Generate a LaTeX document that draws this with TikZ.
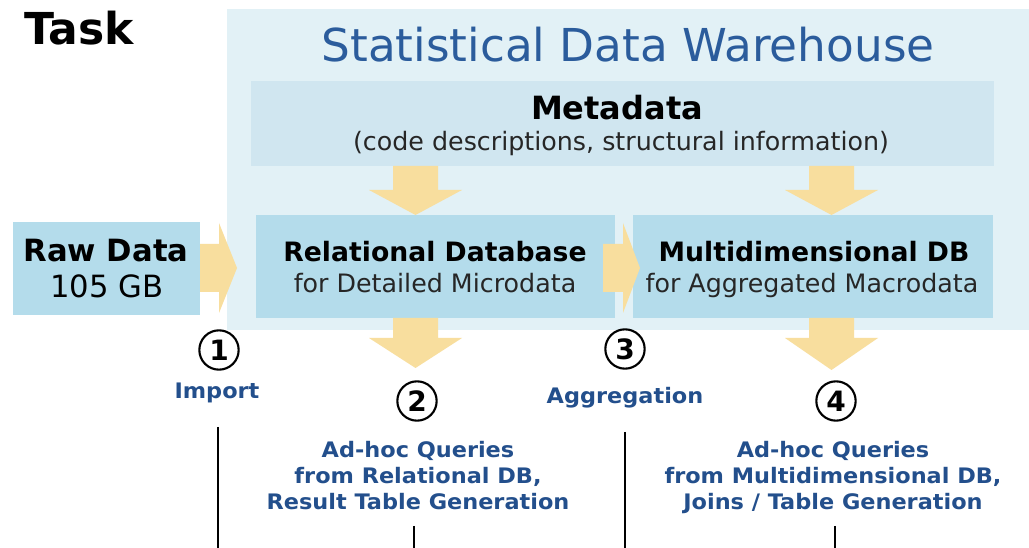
\documentclass[tikz,border=0pt]{standalone}
\usepackage{fontspec}
\setmainfont{DejaVu Sans}
\newfontfamily\labfont[FakeStretch=1.05]{DejaVu Sans}
\usetikzlibrary{fit}
\definecolor{whbg}{HTML}{E2F1F6}
\definecolor{metabg}{HTML}{D0E6F0}
\definecolor{boxbg}{HTML}{B4DCEB}
\definecolor{arrowfill}{HTML}{F8DE9E}
\definecolor{titleblue}{HTML}{2B5C9C}
\definecolor{labblue}{HTML}{234F8C}
\tikzset{
  area/.style={fill=#1, draw=none, inner sep=0pt},
  txt/.style={anchor=base, inner sep=0pt},
  bigbold/.style={txt, font=\bfseries\fontsize{23pt}{28pt}\selectfont},
  boxbold/.style={txt, font=\bfseries\fontsize{20pt}{24pt}\selectfont},
  boxreg/.style={txt, font=\fontsize{19pt}{23pt}\selectfont, text=black!85},
  lab/.style={txt, text=labblue, font=\labfont\bfseries\fontsize{16pt}{19pt}\selectfont},
  num/.style={circle, draw=black, line width=1.6pt, minimum size=29.5pt, inner sep=0pt,
              fill=white, font=\bfseries\fontsize{21pt}{24pt}\selectfont},
  vline/.style={draw=black, line width=1.5pt},
  blockarrow/.style={fill=arrowfill, draw=none}
}
\begin{document}
\begin{tikzpicture}[x=0.75pt, y=-0.75pt]
\useasboundingbox (0,0) rectangle (1029,548);
\fill[white] (0,0) rectangle (1029,548);

% warehouse background
\node[area=whbg, fit={(227,9) (1029,330)}] (wh) {};
% metadata box
\node[area=metabg, fit={(251,81) (994,166)}] (meta) {};
% database boxes
\node[area=boxbg, fit={(256,215) (615,318)}] (rdb) {};
\node[area=boxbg, fit={(633,215) (993,318)}] (mdb) {};
\node[area=boxbg, fit={(13,222) (200,315)}] (raw) {};

% block arrows
% metadata -> relational
\fill[blockarrow] (393,166) -- (438,166) -- (438,190) -- (462,190) -- (415.5,215) -- (369,190) -- (393,190) -- cycle;
% metadata -> multidimensional
\fill[blockarrow] (809,166) -- (854,166) -- (854,190) -- (878,190) -- (831.5,215) -- (785,190) -- (809,190) -- cycle;
% relational down
\fill[blockarrow] (393,318) -- (438,318) -- (438,338) -- (462,338) -- (415.5,368) -- (369,338) -- (393,338) -- cycle;
% multidimensional down
\fill[blockarrow] (809,318) -- (854,318) -- (854,338) -- (878,338) -- (831.5,370) -- (785,338) -- (809,338) -- cycle;
% raw -> relational
\fill[blockarrow] (200,244) -- (219,244) -- (219,223) -- (237,268) -- (219,313) -- (219,292) -- (200,292) -- cycle;
% relational -> multidimensional
\fill[blockarrow] (603,244) -- (623,244) -- (623,223) -- (640,268) -- (623,313) -- (623,292) -- (603,292) -- cycle;

% texts
\node[txt, anchor=base west, font=\bfseries\fontsize{33pt}{38pt}\selectfont] (task) at (24,45) {Task};
\node[txt, text=titleblue, font=\fontsize{34pt}{40pt}\selectfont] (title) at (628,62) {Statistical Data Warehouse};
\node[txt, font=\bfseries\fontsize{24pt}{28pt}\selectfont] (metat) at (617,120) {Metadata};
\node[boxreg] (metas) at (621,151) {(code descriptions, structural information)};

\node[bigbold] (rawt) at (106,262) {Raw Data};
\node[txt, font=\fontsize{23pt}{28pt}\selectfont] (raws) at (107,298) {105 GB};

\node[boxbold] (rdbt) at (435,262) {Relational Database};
\node[boxreg] (rdbs) at (435,293) {for Detailed Microdata};

\node[boxbold] (mdbt) at (814,262) {Multidimensional DB};
\node[boxreg] (mdbs) at (812,293) {for Aggregated Macrodata};

% numbered steps
\node[num] (n1) at (219,350) {1};
\node[num] (n2) at (417,401) {2};
\node[num] (n3) at (625,349) {3};
\node[num] (n4) at (836,401) {4};

\node[lab] (imp) at (217,399) {Import};
\node[lab] (agg) at (625,404) {Aggregation};

\node[lab] (q2a) at (418,458) {Ad-hoc Queries};
\node[lab] (q2b) at (418,484) {from Relational DB,};
\node[lab] (q2c) at (418,510) {Result Table Generation};

\node[lab] (q4a) at (833,458) {Ad-hoc Queries};
\node[lab] (q4b) at (833,484) {from Multidimensional DB,};
\node[lab] (q4c) at (833,510) {Joins / Table Generation};

% vertical lines
\coordinate (l1t) at (218,427); \coordinate (l1b) at (218,548);
\coordinate (l2t) at (414,526); \coordinate (l2b) at (414,548);
\coordinate (l3t) at (625,432); \coordinate (l3b) at (625,548);
\coordinate (l4t) at (835,526); \coordinate (l4b) at (835,548);
\draw[vline] (l1t) -- (l1b);
\draw[vline] (l2t) -- (l2b);
\draw[vline] (l3t) -- (l3b);
\draw[vline] (l4t) -- (l4b);
\end{tikzpicture}
\end{document}
